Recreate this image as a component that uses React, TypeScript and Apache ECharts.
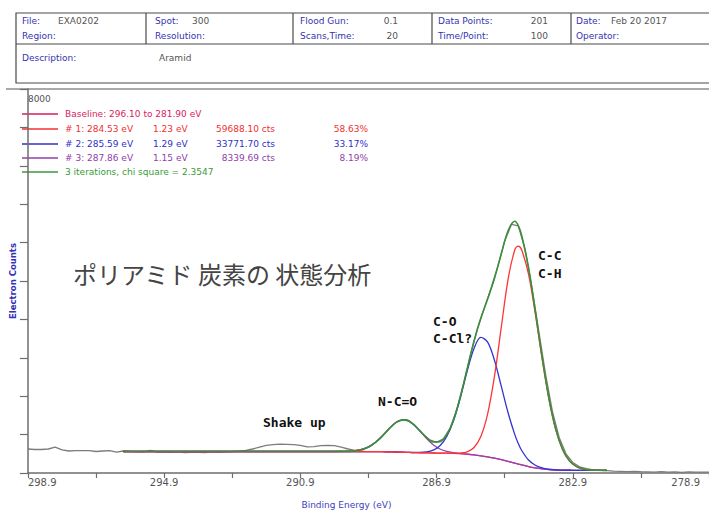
import React, { useEffect, useRef } from 'react';
import * as echarts from 'echarts';

// ---------- data ----------
// binding-energy axis: left end 298.9 eV, right end 278.9 eV
const AXIS_LEFT_BE = 298.9;
const X_TICK_LABELS = ['298.9', '294.9', '290.9', '286.9', '282.9', '278.9'];

// raw spectrum, 0.2 eV steps from 298.9 down to 278.9 eV (counts)
const RAW_START_BE = 298.9;
const RAW_STEP = 0.2;
const RAW_COUNTS = [
  500, 490, 490, 500, 540, 480, 458, 465, 465, 465,
  448, 458, 465, 437, 458, 450, 445, 440, 470, 437,
  433, 430, 440, 425, 432, 430, 425, 440, 430, 440,
  445, 455, 470, 500, 540, 575, 590, 600, 595, 590,
  575, 545, 550, 570, 575, 570, 540, 500, 470, 490,
  545, 640, 770, 920, 1050, 1110, 1075, 965, 810, 690,
  640, 710, 935, 1340, 1880, 2470, 3000, 3430, 3850, 4310,
  4830, 5180, 5150, 4660, 3870, 2960, 2060, 1290, 740, 400,
  220, 130, 90, 65, 55, 48, 40, 35, 30, 32,
  28, 25, 20, 30, 18, 25, 15, 22, 20, 18,
  20,
];

// fitted curves (binding energy, counts)
const FIT_BE = [
  296.1, 290.0, 289.6, 289.4, 289.2, 289.0, 288.8, 288.6, 288.4, 288.2,
  288.0, 287.8, 287.6, 287.4, 287.2, 287.0, 286.8, 286.6, 286.4, 286.2,
  286.0, 285.8, 285.6, 285.4, 285.2, 285.0, 284.8, 284.6, 284.5, 284.4,
  284.2, 284.0, 283.8, 283.6, 283.4, 283.2, 283.0, 282.8, 282.6, 282.4,
  282.2, 281.9,
];
const BASELINE = [
  448, 448, 448, 448, 448, 447, 447, 445, 443, 440,
  435, 430, 426, 422, 419, 417, 415, 413, 409, 402,
  391, 376, 357, 334, 308, 278, 243, 205, 187, 168,
  134, 107, 86, 72, 63, 59, 57, 56, 55, 55,
  55, 55,
];
const PEAK1 = [
  448, 448, 448, 448, 448, 447, 447, 445, 443, 440,
  435, 430, 426, 422, 419, 417, 415, 413, 412, 416,
  441, 531, 761, 1233, 2012, 3032, 4036, 4656, 4728, 4646,
  4141, 3316, 2385, 1546, 909, 493, 256, 138, 85, 65,
  58, 55,
];
const PEAK2 = [
  448, 448, 448, 448, 448, 447, 447, 445, 443, 440,
  435, 431, 427, 428, 439, 476, 569, 762, 1095, 1571,
  2121, 2595, 2826, 2726, 2348, 1809, 1255, 794, 614, 469,
  270, 161, 105, 78, 65, 59, 57, 56, 55, 55,
  55, 55,
];
const PEAK3 = [
  448, 448, 450, 456, 473, 509, 580, 692, 840, 989,
  1091, 1106, 1026, 882, 723, 590, 500, 449, 422, 406,
  392, 376, 357, 334, 308, 278, 243, 205, 187, 168,
  134, 107, 86, 72, 63, 59, 57, 56, 55, 55,
  55, 55,
];
const ENVELOPE = [
  448, 448, 450, 456, 473, 509, 580, 692, 840, 989,
  1091, 1107, 1027, 887, 742, 649, 654, 798, 1111, 1590,
  2173, 2751, 3230, 3625, 4052, 4563, 5048, 5245, 5155, 4947,
  4277, 3370, 2404, 1552, 911, 493, 256, 138, 85, 65,
  58, 55,
];

const LEGEND_COLORS = ['#d81b60', '#f03030', '#3030c8', '#9040a8', '#3a9a3a'];
const LEGEND_ROWS = [
  ['Baseline: 296.10 to 281.90 eV'],
  ['# 1: 284.53 eV', '1.23 eV', '59688.10 cts', '58.63%'],
  ['# 2: 285.59 eV', '1.29 eV', '33771.70 cts', '33.17%'],
  ['# 3: 287.86 eV', '1.15 eV', '8339.69 cts', '8.19%'],
  ['3 iterations, chi square = 2.3547'],
];

const HEADER_LABELS = [
  ['File:', 'Region:'],
  ['Spot:', 'Resolution:'],
  ['Flood Gun:', 'Scans,Time:'],
  ['Data Points:', 'Time/Point:'],
  ['Date:', 'Operator:'],
];
const HEADER_VALUES = [
  ['EXA0202', ''],
  ['300', ''],
  ['0.1', '20'],
  ['201', '100'],
  ['Feb 20 2017', ''],
];
const DESCRIPTION = ['Description:', 'Aramid'];

const TITLE_JP = 'ポリアミド 炭素の 状態分析';
const ANNOTATIONS = ['C-C', 'C-H', 'C-O', 'C-Cl?', 'N-C=O', 'Shake up'];

// ---------- layout (pixels) ----------
const GRID = { left: 15, top: 89, width: 700, height: 384 };
const LABEL_BLUE = '#3434b0';
const VALUE_GREY = '#555';
const SMALL_FONT = '9px "DejaVu Sans"';

function txt(x: number, y: number, text: string, fill: string, font: string, align = 'left') {
  return {
    type: 'text',
    x,
    y,
    silent: true,
    style: {
      text,
      fill,
      font,
      align,
      textAlign: align,
      verticalAlign: 'middle',
      textVerticalAlign: 'middle',
    },
  };
}
function ln(x1: number, y1: number, x2: number, y2: number, stroke: string, lineWidth = 1) {
  return { type: 'line', silent: true, shape: { x1, y1, x2, y2 }, style: { stroke, lineWidth } };
}

function buildGraphic() {
  const g: any[] = [];
  // header box
  const boxStroke = '#4a4a4a';
  g.push({ type: 'rect', silent: true, shape: { x: 16, y: 13, width: 700, height: 70 }, style: { fill: 'none', stroke: boxStroke, lineWidth: 1.2 } });
  g.push(ln(16, 44, 716, 44, boxStroke, 1.2));
  const colX = [16, 146, 293, 432, 571];
  colX.slice(1).forEach((x) => g.push(ln(x, 13, x, 44, boxStroke, 1.2)));
  const labelX = [22, 155, 300, 438, 576];
  const valueX = [58, 192, 398, 548, 611];
  const valueAlign = ['left', 'left', 'right', 'right', 'left'];
  const rowY = [21, 36];
  HEADER_LABELS.forEach((pair, c) => {
    pair.forEach((lab, r) => {
      g.push(txt(labelX[c], rowY[r], lab, LABEL_BLUE, SMALL_FONT));
      const v = HEADER_VALUES[c][r];
      if (v) g.push(txt(valueX[c], rowY[r], v, VALUE_GREY, SMALL_FONT, valueAlign[c]));
    });
  });
  g.push(txt(22, 58, DESCRIPTION[0], LABEL_BLUE, SMALL_FONT));
  g.push(txt(159, 58, DESCRIPTION[1], VALUE_GREY, SMALL_FONT));

  // plot frame top line
  g.push(ln(6, 89, 709, 89, '#555', 1.2));

  // legend
  const legY = [114, 129, 144, 158, 172];
  const colPos = [65, 153, 275, 368];
  const colAlign = ['left', 'left', 'right', 'right'];
  LEGEND_ROWS.forEach((row, i) => {
    const c = LEGEND_COLORS[i];
    g.push(ln(22, legY[i], 58, legY[i], c, 1.4));
    row.forEach((t, j) => g.push(txt(colPos[j], legY[i], t, c, SMALL_FONT, colAlign[j])));
  });

  // Japanese title
  g.push(txt(73, 273, TITLE_JP, '#444', '24px "Noto Sans CJK JP"'));

  // peak annotations
  const annFont = 'bold 13px "DejaVu Sans Mono"';
  const annPos = [
    [538, 255],
    [538, 273],
    [433, 321],
    [433, 338],
    [378, 401],
    [263, 422],
  ];
  ANNOTATIONS.forEach((t, i) => g.push(txt(annPos[i][0], annPos[i][1], t, '#111', annFont)));
  return g;
}

function toPoints(be: number[], vals: number[]) {
  return be.map((e, i) => [+(AXIS_LEFT_BE - e).toFixed(3), vals[i]]);
}

export default function App() {
  const ref = useRef<HTMLDivElement>(null);
  useEffect(() => {
    if (!ref.current) return;
    const chart = echarts.init(ref.current, undefined, { renderer: 'svg' });
    const rawPts = RAW_COUNTS.map((v, i) => [
      +(AXIS_LEFT_BE - (RAW_START_BE - i * RAW_STEP)).toFixed(3),
      v,
    ]);
    const fitLine = (name: string, vals: number[], color: string, width: number, z: number) => ({
      name,
      type: 'line',
      data: toPoints(FIT_BE, vals),
      showSymbol: false,
      symbol: 'none',
      smooth: 0.35,
      silent: true,
      z,
      lineStyle: { color, width },
    });
    const axisGrey = '#6e6e6e';
    chart.setOption({
      animation: false,
      grid: GRID,
      xAxis: {
        type: 'value',
        min: 0,
        max: 20,
        interval: 2,
        axisLine: { show: true, onZero: false, lineStyle: { color: axisGrey, width: 1.5 } },
        axisTick: { show: true, length: 5, lineStyle: { color: axisGrey, width: 1.2 } },
        splitLine: { show: false },
        axisLabel: {
          color: '#555',
          fontSize: 10,
          fontFamily: 'DejaVu Sans',
          margin: 4,
          showMinLabel: true,
          showMaxLabel: true,
          alignMinLabel: 'left',
          alignMaxLabel: 'right',
          formatter: (v: number) => {
            const k = Math.round(v);
            if (k % 4 !== 0) return '';
            const s = X_TICK_LABELS[k / 4];
            return k === 20 ? '{e|' + s + '}' : s;
          },
          rich: { e: { padding: [0, 9, 0, 0], color: '#555', fontSize: 10, fontFamily: 'DejaVu Sans' } },
        },
        name: 'Binding Energy (eV)',
        nameLocation: 'middle',
        nameGap: 27,
        nameTextStyle: { color: '#4040c0', fontSize: 9, fontFamily: 'DejaVu Sans', padding: [0, 44, 0, 0] },
      },
      yAxis: {
        type: 'value',
        min: 0,
        max: 8000,
        interval: 800,
        axisLine: { show: true, lineStyle: { color: axisGrey, width: 1.5 } },
        axisTick: { show: true, length: 8, lineStyle: { color: axisGrey, width: 1.2 } },
        splitLine: { show: false },
        axisLabel: {
          inside: true,
          margin: 0,
          verticalAlign: 'top',
          padding: [5, 0, 0, 0],
          color: '#555',
          fontSize: 9,
          fontFamily: 'DejaVu Sans',
          formatter: (v: number) => (v === 8000 ? '8000' : ''),
        },
        name: 'Electron Counts',
        nameLocation: 'middle',
        nameRotate: 90,
        nameGap: 4,
        nameTextStyle: { color: '#3232b8', fontWeight: 'bold', fontSize: 8.5, fontFamily: 'DejaVu Sans' },
      },
      graphic: buildGraphic(),
      series: [
        {
          name: 'Raw',
          type: 'line',
          data: rawPts,
          showSymbol: false,
          symbol: 'none',
          silent: true,
          z: 1,
          lineStyle: { color: '#7c7c7c', width: 1.3 },
        },
        fitLine('Baseline', BASELINE, '#e0307a', 1.3, 2),
        fitLine('#3', PEAK3, '#9a40b0', 1.3, 3),
        fitLine('#2', PEAK2, '#3434d0', 1.3, 4),
        fitLine('#1', PEAK1, '#ff3434', 1.3, 5),
        fitLine('Envelope', ENVELOPE, '#3a8f3a', 1.6, 6),
      ],
    });
    return () => chart.dispose();
  }, []);
  return (
    <div
      ref={ref}
      style={{ position: 'fixed', left: 0, top: 0, width: 709, height: 514, background: '#fff' }}
    />
  );
}
